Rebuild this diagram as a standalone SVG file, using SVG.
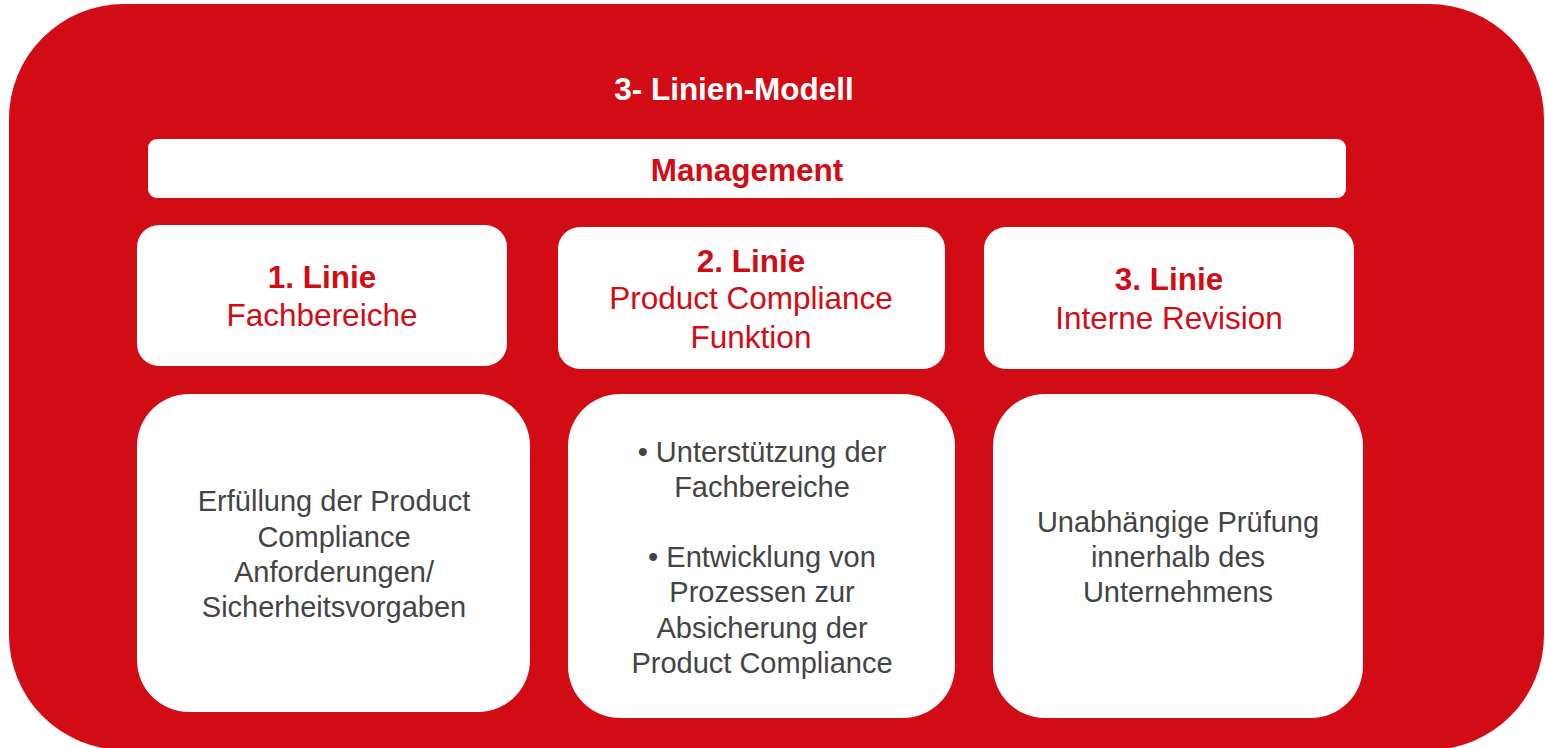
<svg xmlns="http://www.w3.org/2000/svg" width="1545" height="748" viewBox="0 0 1545 748">
<style>
.box{fill:#ffffff}
.t{font-family:"Liberation Sans",Arial,sans-serif;text-anchor:middle}
.hb{font-size:31.5px;font-weight:bold;fill:#D20C14}
.hr{font-size:31.5px;fill:#D20C14}
.bd{font-size:29px;fill:#444444}
</style>
<rect x="9" y="4" width="1535" height="746" rx="115" ry="115" fill="#D20C14"/>
<text class="t" x="734" y="100" font-size="31.5" font-weight="bold" fill="#ffffff">3- Linien-Modell</text>
<g id="management">
<rect class="box" x="148" y="139" width="1198" height="59" rx="9"/>
<text class="t hb" x="747" y="181">Management</text>
</g>
<g id="linie1">
<rect class="box" x="137" y="225" width="370" height="141" rx="22"/>
<text class="t hb" x="322" y="288">1. Linie</text>
<text class="t hr" x="322" y="326">Fachbereiche</text>
</g>
<g id="linie2">
<rect class="box" x="558" y="227" width="387" height="142" rx="22"/>
<text class="t hb" x="751" y="272">2. Linie</text>
<text class="t hr" x="751" y="309">Product Compliance</text>
<text class="t hr" x="751" y="348">Funktion</text>
</g>
<g id="linie3">
<rect class="box" x="984" y="227" width="370" height="142" rx="22"/>
<text class="t hb" x="1169" y="290">3. Linie</text>
<text class="t hr" x="1169" y="329">Interne Revision</text>
</g>
<g id="aufgabe1">
<rect class="box" x="137" y="394" width="393" height="318" rx="52"/>
<text class="t bd" x="334" y="511">Erfüllung der Product</text>
<text class="t bd" x="334" y="547">Compliance</text>
<text class="t bd" x="334" y="582">Anforderungen/</text>
<text class="t bd" x="334" y="617">Sicherheitsvorgaben</text>
</g>
<g id="aufgabe2">
<rect class="box" x="568" y="394" width="387" height="324" rx="52"/>
<text class="t bd" x="762" y="462">• Unterstützung der</text>
<text class="t bd" x="762" y="497">Fachbereiche</text>
<text class="t bd" x="762" y="567">• Entwicklung von</text>
<text class="t bd" x="762" y="602">Prozessen zur</text>
<text class="t bd" x="762" y="638">Absicherung der</text>
<text class="t bd" x="762" y="673">Product Compliance</text>
</g>
<g id="aufgabe3">
<rect class="box" x="993" y="394" width="370" height="324" rx="52"/>
<text class="t bd" x="1178" y="532">Unabhängige Prüfung</text>
<text class="t bd" x="1178" y="567">innerhalb des</text>
<text class="t bd" x="1178" y="602">Unternehmens</text>
</g>
<g id="connectors"></g>
</svg>
